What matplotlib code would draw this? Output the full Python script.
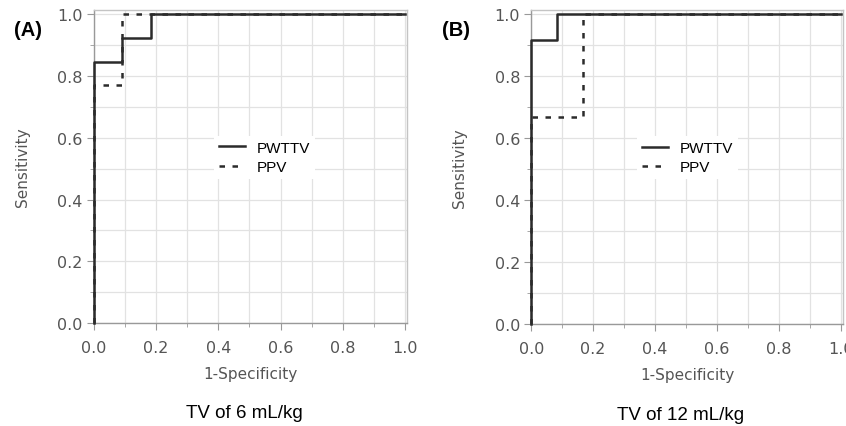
import numpy as np
import matplotlib.pyplot as plt
from matplotlib.ticker import MultipleLocator

# ROC step curves (1-specificity, sensitivity)
a_pwttv_x = [0.0, 0.0, 0.091, 0.091, 0.182, 0.182, 1.0]
a_pwttv_y = [0.0, 0.846, 0.846, 0.923, 0.923, 1.0, 1.0]
a_ppv_x = [0.0, 0.0, 0.091, 0.091, 1.0]
a_ppv_y = [0.0, 0.769, 0.769, 1.0, 1.0]

b_pwttv_x = [0.0, 0.0, 0.083, 0.083, 1.0]
b_pwttv_y = [0.0, 0.917, 0.917, 1.0, 1.0]
b_ppv_x = [0.0, 0.0, 0.167, 0.167, 1.0]
b_ppv_y = [0.0, 0.667, 0.667, 1.0, 1.0]

panels = ["(A)", "(B)"]
titles = ["TV of 6 mL/kg", "TV of 12 mL/kg"]
series_names = ["PWTTV", "PPV"]

fig = plt.figure(figsize=(8.46, 4.27), dpi=100)

boxes = [[0.111, 0.241, 0.370, 0.733], [0.628, 0.239, 0.368, 0.735]]
curves = [(a_pwttv_x, a_pwttv_y, a_ppv_x, a_ppv_y),
          (b_pwttv_x, b_pwttv_y, b_ppv_x, b_ppv_y)]
leg_x = [0.36, 0.315]

for i in range(2):
    ax = fig.add_axes(boxes[i])
    px, py, vx, vy = curves[i]
    ax.plot(px, py, color="#2b2b2b", lw=1.8, label=series_names[0],
            zorder=3, clip_on=False)
    ax.plot(vx, vy, color="#2b2b2b", lw=1.8, ls=(0, (2.2, 3)),
            label=series_names[1], zorder=3, clip_on=False)
    ax.set_xlim(0, 1.006)
    ax.set_ylim(0, 1.013)
    ax.xaxis.set_major_locator(MultipleLocator(0.2))
    ax.yaxis.set_major_locator(MultipleLocator(0.2))
    ax.xaxis.set_minor_locator(MultipleLocator(0.1))
    ax.yaxis.set_minor_locator(MultipleLocator(0.1))
    ax.xaxis.set_major_formatter(plt.FormatStrFormatter("%.1f"))
    ax.yaxis.set_major_formatter(plt.FormatStrFormatter("%.1f"))
    ax.grid(True, which="both", color="#e2e2e2", lw=0.9, zorder=0)
    ax.set_axisbelow(True)
    ax.tick_params(which="major", length=5, color="#999999",
                   labelcolor="#555555", labelsize=11.5, pad=3)
    ax.tick_params(axis="x", which="major", pad=7)
    ax.tick_params(which="minor", length=3, color="#999999")
    for s in ax.spines.values():
        s.set_color("#c4c4c4")
        s.set_linewidth(1.0)
    ax.spines["left"].set_color("#999999")
    ax.spines["bottom"].set_color("#999999")
    ax.set_xlabel("1-Specificity", fontsize=11, color="#555555", labelpad=8)
    ax.set_ylabel("Sensitivity", fontsize=11, color="#555555", labelpad=20)
    leg = ax.legend(loc="upper left", bbox_to_anchor=(leg_x[i], 0.622),
                    frameon=True, fancybox=False, edgecolor="white",
                    framealpha=1.0, prop={"family": "Liberation Sans", "size": 11},
                    handlelength=1.7, handletextpad=0.8, labelspacing=0.35,
                    borderpad=0.3)
    leg.get_frame().set_linewidth(0)
    # panel title below the axis label
    ax.text(0.48, -0.287, titles[i], transform=ax.transAxes, ha="center",
            va="center", fontsize=13.5, family="Liberation Sans")

fig.text(0.016, 0.929, panels[0], fontsize=14.5, fontweight="bold",
         family="Liberation Sans", va="center")
fig.text(0.523, 0.929, panels[1], fontsize=14.5, fontweight="bold",
         family="Liberation Sans", va="center")

fig.savefig("out.png", dpi=100)
